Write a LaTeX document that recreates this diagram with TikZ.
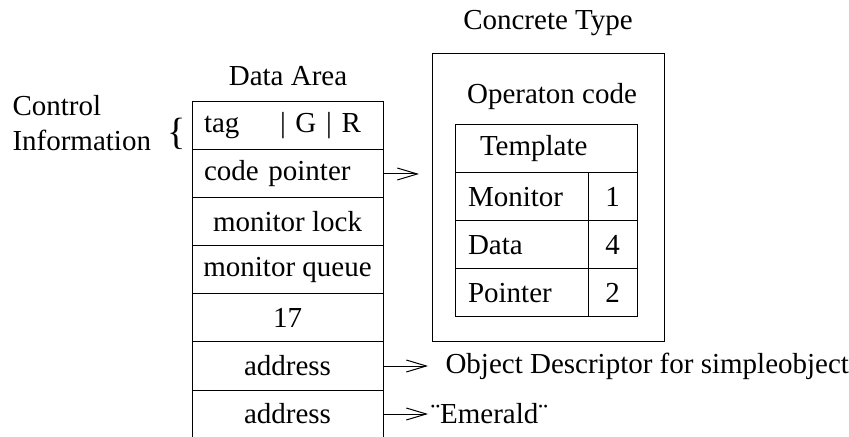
\documentclass[tikz,border=0pt]{standalone}
\usepackage{fontspec}
\setmainfont{Liberation Serif}
\usetikzlibrary{
    arrows.meta,
    positioning
}
\tikzset{cellbox/.style={draw, inner sep=0pt, minimum height=24pt}}
\tikzset{datacell/.style={cellbox, minimum width=95.5pt}}
\tikzset{datacelll/.style={cellbox, inner xsep=6pt, text width=83.5pt, align=left}}
\tikzset{ptr/.style={-{Straight Barb[length=10pt, width=6pt]}}}

\begin{document}
\begin{tikzpicture}[x=0.5pt, y=-0.5pt, font=\fontsize{14.5}{17.5}\selectfont, line width=0.5pt]
                        \clip (0,0) rectangle (849,437);
                        \node (darea) at (288,76) {Data Area};
                        \node[datacelll] (tag) at (287.5,126) {\mbox{tag\hspace{1.4em}| G | R}};
                        \node[datacelll] (code) at (287.5,174) {code pointer};
                        \node[datacell] (mlock) at (287.5,222) {monitor lock};
                        \node[datacell] (mqueue) at (287.5,270) {monitor queue};
                        \node[datacell] (num) at (287.5,318) {17};
                        \node[datacell] (addra) at (287.5,366) {address};
                        \node[datacell] (addrb) at (287.5,414) {address};

                        \node[align=left, anchor=west, inner sep=0pt] (ctrl) at (12,123) {Control\\Information};
                        \node[inner sep=0pt, font=\fontsize{19}{20}\selectfont] (brace) at (177,134) {\{};

                        \node (ctype) at (548,23) {Concrete Type};
                        \node[draw, inner sep=0pt, minimum width=116pt, minimum height=144pt] (concrete) at (548,198) {};
                        \node (opcode) at (552,97) {Operaton code};
                        \node[cellbox, inner xsep=12.5pt, text width=66pt, align=left] (tmpl) at (546,149) {Template};
                        \node[cellbox, inner xsep=6.5pt, text width=53.5pt, align=left] (mon) at (521.5,197) {Monitor};
                        \node[cellbox, minimum width=24.5pt] (monn) at (612.5,197) {1};
                        \node[cellbox, inner xsep=6.5pt, text width=53.5pt, align=left] (dat) at (521.5,245) {Data};
                        \node[cellbox, minimum width=24.5pt] (datn) at (612.5,245) {4};
                        \node[cellbox, inner xsep=6.5pt, text width=53.5pt, align=left] (pnt) at (521.5,293) {Pointer};
                        \node[cellbox, minimum width=24.5pt] (pntn) at (612.5,293) {2};

                        \coordinate (codetip) at (419,174);
                        \draw[ptr] (code.east) -- (codetip);
                        \node[anchor=west, inner sep=0pt] (objdesc) at (445,366) {Object Descriptor for simpleobject};
                        \draw[ptr, shorten >=8.5pt] (addra.east) -- (objdesc.west);
                        \node[anchor=west, inner sep=0pt] (emerald) at (430,414) {¨Emerald¨};
                        \draw[ptr, shorten >=1pt] (addrb.east) -- (emerald.west);
                    \end{tikzpicture}
\end{document}
